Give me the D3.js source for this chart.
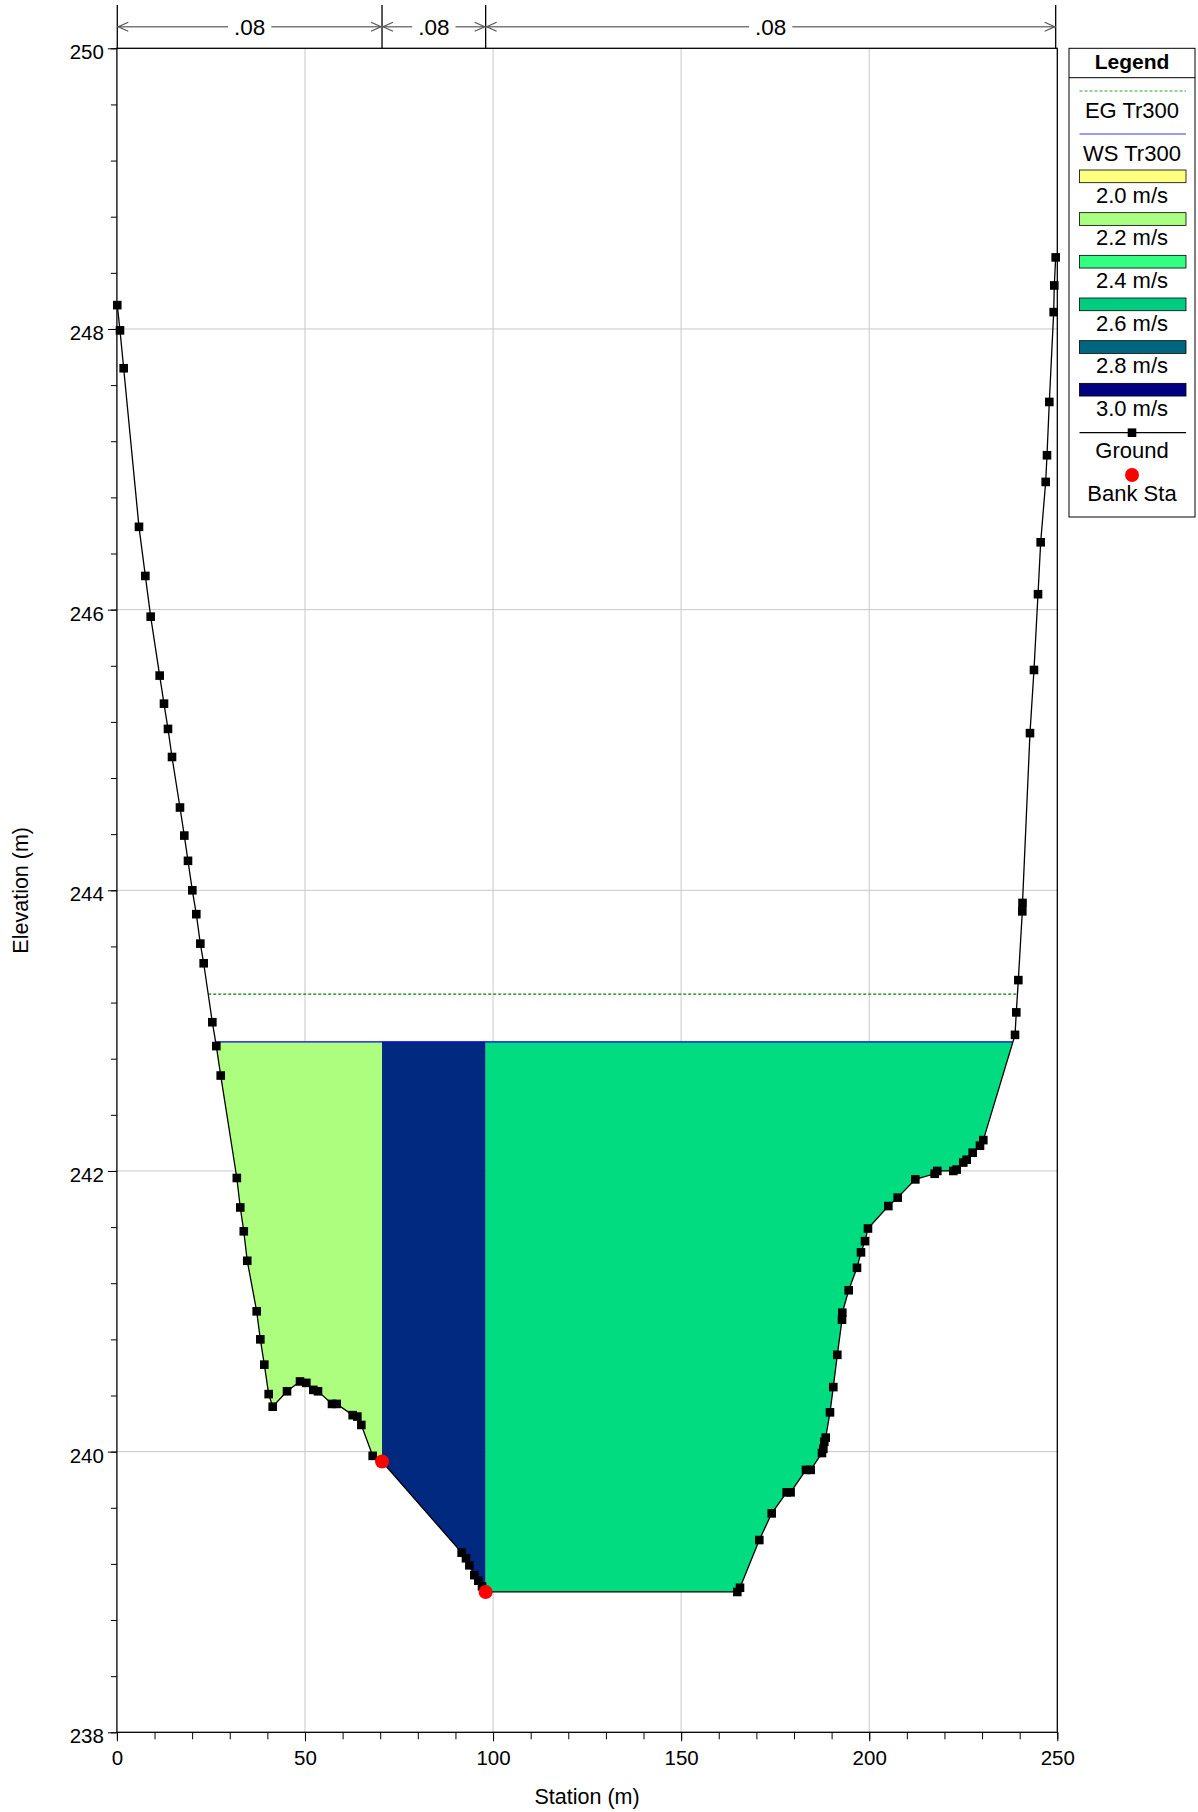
<!DOCTYPE html>
<html><head><meta charset="utf-8">
<script src="https://cdn.jsdelivr.net/npm/d3@7"></script>
<style>body{margin:0;background:#fff}svg{display:block}text{font-family:"Liberation Sans",Arial,sans-serif}</style>
</head><body>
<script>
// ---------- DATA ----------
const groundSta = [0.1,0.82,1.8,5.87,7.56,8.98,11.37,12.52,13.58,14.65,16.77,17.92,18.9,20.05,21.11,22.18,23.07,25.37,26.43,27.6,31.88,32.8,33.73,34.65,37.16,38.13,39.19,40.35,41.41,45.22,48.68,50.36,52.22,53.46,57.18,58.43,62.68,63.92,64.98,68.0,70.48,91.65,92.8,93.7,95.02,96.08,97.06,98.03,164.93,165.65,170.78,174.07,178.06,179.1,183.19,184.44,187.44,187.8,188.06,188.43,189.57,190.45,191.52,192.77,192.85,194.54,196.75,197.81,198.88,199.67,205.08,207.57,212.26,217.4,218.1,222.36,223.25,225.0,225.9,227.5,229.45,230.33,238.76,239.1,239.64,240.7,240.75,242.74,243.8,244.87,245.58,246.91,247.26,247.88,249.04,249.2,249.57];
const groundElev = [248.17,247.99,247.72,246.59,246.24,245.95,245.53,245.33,245.15,244.95,244.59,244.39,244.21,244.00,243.83,243.62,243.48,243.06,242.89,242.68,241.95,241.74,241.57,241.36,241.0,240.80,240.62,240.41,240.32,240.43,240.50,240.49,240.44,240.43,240.34,240.34,240.26,240.25,240.19,239.97,239.93,239.28,239.24,239.19,239.12,239.08,239.04,239.00,239.00,239.03,239.37,239.56,239.71,239.71,239.87,239.87,239.99,240.02,240.07,240.10,240.28,240.46,240.69,240.94,240.99,241.15,241.31,241.42,241.50,241.59,241.75,241.81,241.94,241.98,242.0,242.0,242.01,242.06,242.08,242.13,242.18,242.22,242.97,243.13,243.36,243.85,243.91,245.12,245.57,246.11,246.48,246.91,247.10,247.48,248.12,248.31,248.51];
const bankSta = [70.48, 98.03];
const bankElev = [239.93, 239.00];
const wsElev = 242.92;
const egElev = 243.26;
const nValues = [".08", ".08", ".08"];
const xTicks = [0, 50, 100, 150, 200, 250];
const yTicks = [238, 240, 242, 244, 246, 248, 250];
const velLabels = ["2.0 m/s","2.2 m/s","2.4 m/s","2.6 m/s","2.8 m/s","3.0 m/s"];
// ---------- STYLE ----------
const velColors = ["#ffff80","#a8ff80","#33ff80","#00cc80","#006680","#000080"];
const zoneColors = ["#adfe7f", "#00297f", "#00dc7f"];

const W = 1198, H = 1812;
const svg = d3.select("body").append("svg").attr("width", W).attr("height", H);
const x = d3.scaleLinear().domain([0, 250]).range([116.9, 1057.3]);
const y = d3.scaleLinear().domain([238, 250]).range([1732.3, 48.3]);
const ground = groundSta.map((s, i) => ({s, e: groundElev[i]}));

// gridlines
const gridG = svg.append("g");
gridG.selectAll(".gx").data(xTicks.slice(1, -1)).join("line")
  .attr("x1", d => x(d)).attr("x2", d => x(d)).attr("y1", y(238)).attr("y2", y(250))
  .attr("stroke", "#c8c8c8").attr("stroke-width", 1);
gridG.selectAll(".gy").data(yTicks.slice(1, -1)).join("line")
  .attr("y1", d => y(d)).attr("y2", d => y(d)).attr("x1", x(0)).attr("x2", x(250))
  .attr("stroke", "#c8c8c8").attr("stroke-width", 1);

// intersections
function crossing(a, b, lvl) {
  const t = (lvl - a.e) / (b.e - a.e);
  return a.s + t * (b.s - a.s);
}
function groundAt(s) {
  for (let i = 0; i < ground.length - 1; i++) {
    if (s >= ground[i].s && s <= ground[i+1].s) {
      const a = ground[i], b = ground[i+1];
      return a.e + (b.e - a.e) * (s - a.s) / (b.s - a.s);
    }
  }
  return ground[ground.length-1].e;
}
function leftX(lvl) {
  for (let i = 0; i < ground.length - 1; i++)
    if (ground[i].e >= lvl && ground[i+1].e < lvl) return crossing(ground[i], ground[i+1], lvl);
}
function rightX(lvl) {
  for (let i = ground.length - 1; i > 0; i--)
    if (ground[i].e >= lvl && ground[i-1].e < lvl) return crossing(ground[i-1], ground[i], lvl);
}
const wsL = leftX(wsElev), wsR = rightX(wsElev);
const egL = leftX(egElev), egR = rightX(egElev);
const bounds = [wsL, bankSta[0], bankSta[1], wsR];

// fills
for (let k = 0; k < 3; k++) {
  const a = bounds[k], b = bounds[k+1];
  const pts = [[a, wsElev], [b, wsElev], [b, groundAt(b)]];
  ground.filter(p => p.s < b && p.s > a).reverse().forEach(p => pts.push([p.s, p.e]));
  pts.push([a, groundAt(a)]);
  svg.append("path").attr("d", d3.line().x(d => x(d[0])).y(d => y(d[1]))(pts) + "Z")
    .attr("fill", zoneColors[k]).attr("stroke", "none");
}
// WS line
svg.append("line").attr("x1", x(wsL)).attr("x2", x(wsR)).attr("y1", y(wsElev)).attr("y2", y(wsElev))
  .attr("stroke", "#0000ff").attr("stroke-width", 1.2);
// EG line
svg.append("line").attr("x1", x(egL)).attr("x2", x(egR)).attr("y1", y(egElev)).attr("y2", y(egElev))
  .attr("stroke", "#008000").attr("stroke-width", 1.2).attr("stroke-dasharray", "3,2");
// ground
svg.append("path").datum(ground).attr("d", d3.line().x(d => x(d.s)).y(d => y(d.e)))
  .attr("fill", "none").attr("stroke", "#000").attr("stroke-width", 1.3);
const ms = 8.6;
svg.selectAll(".gm").data(ground).join("rect")
  .attr("x", d => x(d.s) - ms / 2).attr("y", d => y(d.e) - ms / 2).attr("width", ms).attr("height", ms).attr("fill", "#000");
svg.selectAll(".bk").data(bankSta).join("circle")
  .attr("cx", d => x(d)).attr("cy", (d, i) => y(bankElev[i])).attr("r", 7).attr("fill", "#ff0000");

// frame
svg.append("rect").attr("x", x(0)).attr("y", y(250)).attr("width", x(250) - x(0)).attr("height", y(238) - y(250))
  .attr("fill", "none").attr("stroke", "#000").attr("stroke-width", 1.3);

// axes
const yMinor = d3.range(238, 250.01, 0.4).map(v => +v.toFixed(1));
const yAx = svg.append("g").attr("transform", `translate(${x(0)},0)`);
yAx.call(d3.axisLeft(y).tickValues(yMinor).tickSize(6).tickFormat(""));
yAx.append("g").call(d3.axisLeft(y).tickValues(yTicks).tickSize(9).tickFormat(d3.format("d")));
yAx.selectAll(".domain").remove();
yAx.selectAll("text").attr("font-size", 20.5).attr("fill", "#000").attr("font-family", "Liberation Sans, Arial").attr("dx", "-1").attr("dy", "0.52em");
yAx.selectAll("line").attr("stroke", "#000");
const xMinor = d3.range(0, 250.1, 10);
const xAx = svg.append("g").attr("transform", `translate(0,${y(238)})`);
xAx.call(d3.axisBottom(x).tickValues(xMinor).tickSize(7).tickFormat(""));
xAx.append("g").call(d3.axisBottom(x).tickValues(xTicks).tickSize(9).tickFormat(d3.format("d")));
xAx.selectAll(".domain").remove();
xAx.selectAll("text").attr("font-size", 20.5).attr("fill", "#000").attr("font-family", "Liberation Sans, Arial").attr("dy", "1.02em");
xAx.selectAll("line").attr("stroke", "#000");

svg.append("text").attr("x", (x(0) + x(250)) / 2).attr("y", 1804).attr("text-anchor", "middle")
  .attr("font-size", 21.5).text("Station (m)");
svg.append("text").attr("transform", `translate(28,${(y(238) + y(250)) / 2}) rotate(-90)`).attr("text-anchor", "middle")
  .attr("font-size", 21.5).text("Elevation (m)");

// Manning n annotation
const nBreaks = [ground[0].s, bankSta[0], bankSta[1], ground[ground.length - 1].s];
const ay = 26.7;
const annG = svg.append("g");
const annLines = annG.append("g"), annMask = annG.append("g"), annText = annG.append("g");
nBreaks.forEach(s => annLines.append("line").attr("x1", x(s)).attr("x2", x(s)).attr("y1", 5).attr("y2", y(250))
  .attr("stroke", "#000").attr("stroke-width", 1.3));
for (let k = 0; k < 3; k++) {
  const a = x(nBreaks[k]), b = x(nBreaks[k+1]);
  annLines.append("line").attr("x1", a).attr("x2", b).attr("y1", ay).attr("y2", ay).attr("stroke", "#7a7a7a").attr("stroke-width", 1.5);
  annLines.append("path").attr("d", `M${a+11},${ay-4.5}L${a+1},${ay}L${a+11},${ay+4.5}`).attr("fill", "none").attr("stroke", "#555").attr("stroke-width", 1.2);
  annLines.append("path").attr("d", `M${b-11},${ay-4.5}L${b-1},${ay}L${b-11},${ay+4.5}`).attr("fill", "none").attr("stroke", "#555").attr("stroke-width", 1.2);
  const t = annText.append("text").attr("x", (a + b) / 2).attr("y", 35).attr("text-anchor", "middle").attr("font-size", 22.5).text(nValues[k]);
  const bb = t.node().getBBox();
  annMask.append("rect").attr("x", bb.x - 6).attr("y", ay - 3).attr("width", bb.width + 12).attr("height", 6).attr("fill", "#fff");
}

// legend
const L = svg.append("g");
const lx0 = 1069, lx1 = 1195, lcx = (lx0 + lx1) / 2, sx0 = 1079.5, sx1 = 1186;
const lfs = 22;
L.append("rect").attr("x", lx0).attr("y", 48.3).attr("width", lx1 - lx0).attr("height", 517 - 48.3).attr("fill", "#fff").attr("stroke", "#000").attr("stroke-width", 1);
L.append("line").attr("x1", lx0).attr("x2", lx1).attr("y1", 77.7).attr("y2", 77.7).attr("stroke", "#000");
L.append("text").attr("x", lcx).attr("y", 69).attr("text-anchor", "middle").attr("font-size", 21).attr("font-weight", "bold").text("Legend");
L.append("line").attr("x1", sx0).attr("x2", sx1).attr("y1", 91).attr("y2", 91).attr("stroke", "#22aa22").attr("stroke-dasharray", "3,2").attr("stroke-width", 1.2);
L.append("text").attr("x", lcx).attr("y", 118.3).attr("text-anchor", "middle").attr("font-size", lfs).text("EG Tr300");
L.append("line").attr("x1", sx0).attr("x2", sx1).attr("y1", 134).attr("y2", 134).attr("stroke", "#3333ff").attr("stroke-width", 1.2);
L.append("text").attr("x", lcx).attr("y", 160.7).attr("text-anchor", "middle").attr("font-size", lfs).text("WS Tr300");
velLabels.forEach((lab, i) => {
  const t0 = 170 + i * 42.67;
  L.append("rect").attr("x", sx0).attr("y", t0).attr("width", sx1 - sx0).attr("height", 12.7).attr("fill", velColors[i]).attr("stroke", "#000").attr("stroke-width", 0.8);
  L.append("text").attr("x", lcx).attr("y", t0 + 32.7).attr("text-anchor", "middle").attr("font-size", lfs).text(lab);
});
L.append("line").attr("x1", sx0).attr("x2", sx1).attr("y1", 432.7).attr("y2", 432.7).attr("stroke", "#000").attr("stroke-width", 1.2);
L.append("rect").attr("x", lcx - ms / 2).attr("y", 432.7 - ms / 2).attr("width", ms).attr("height", ms).attr("fill", "#000");
L.append("text").attr("x", lcx).attr("y", 458.3).attr("text-anchor", "middle").attr("font-size", lfs).text("Ground");
L.append("circle").attr("cx", lcx).attr("cy", 475).attr("r", 7).attr("fill", "#ff0000");
L.append("text").attr("x", lcx).attr("y", 501).attr("text-anchor", "middle").attr("font-size", lfs).text("Bank Sta");
</script>
</body></html>
